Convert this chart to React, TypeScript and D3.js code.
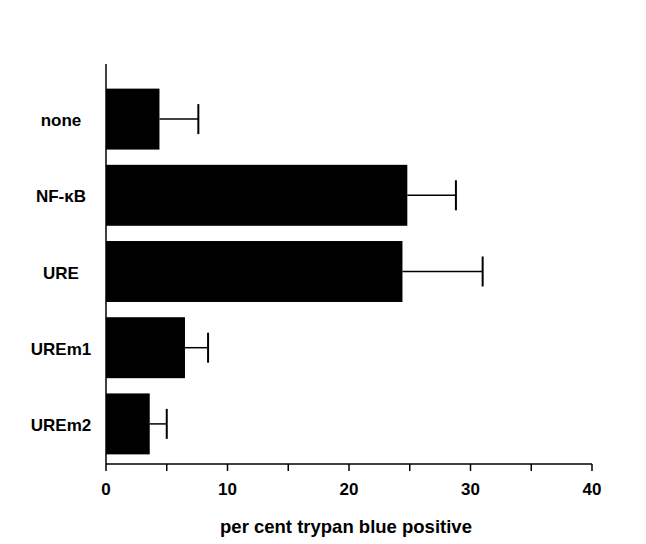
import * as d3 from "d3";
import React from "react";

const categories = ["none", "NF-\u03BAB", "URE", "UREm1", "UREm2"];
const means = [4.4, 24.8, 24.4, 6.5, 3.6];
const errors = [3.2, 4.0, 6.6, 1.9, 1.4];
const xTicks = [0, 10, 20, 30, 40];
const minorTicks = [5, 15, 25, 35];

const App = () => {
    const width = 646, height = 544;
    const font = "'Liberation Sans', Arial, Helvetica, sans-serif";

    const x = d3.scaleLinear().domain([0, 40]).range([106, 592]);
    const y = d3.scaleBand()
        .domain(categories)
        .range([81, 462])
        .paddingInner(0.2)
        .paddingOuter(0.1);

    const axisY = 464;

    return (
        <svg width={width} height={height} style={{ position: "absolute", left: 0, top: 0 }}>
            <rect width={width} height={height} fill="#fff" />
            {/* y axis */}
            <line x1={x(0)} x2={x(0)} y1={64} y2={axisY} stroke="#000" strokeWidth={1.5} />
            {/* x axis */}
            <line x1={x(0)} x2={x(40)} y1={axisY} y2={axisY} stroke="#000" strokeWidth={1.5} />
            {xTicks.concat(minorTicks).map(t => (
                <line key={"t" + t} x1={x(t)} x2={x(t)} y1={axisY} y2={axisY + 7}
                      stroke="#000" strokeWidth={1.5} />
            ))}
            {xTicks.map(t => (
                <text key={"l" + t} x={x(t)} y={495} textAnchor="middle"
                      fontFamily={font} fontWeight="bold" fontSize={17}>{t}</text>
            ))}
            {categories.map((c, i) => {
                const y0 = y(c) as number;
                const bh = y.bandwidth();
                const cy = y0 + bh / 2;
                return (
                    <g key={c}>
                        <line x1={x(means[i])} x2={x(means[i] + errors[i])} y1={cy} y2={cy}
                              stroke="#000" strokeWidth={1.5} />
                        <line x1={x(means[i] + errors[i])} x2={x(means[i] + errors[i])}
                              y1={cy - 15} y2={cy + 15} stroke="#000" strokeWidth={2} />
                        <rect x={x(0)} y={y0} width={x(means[i]) - x(0)} height={bh} fill="#000" />
                        <text x={61} y={cy + 7} textAnchor="middle" fontFamily={font}
                              fontWeight="bold" fontSize={17}>{c}</text>
                    </g>
                );
            })}
            <text x={346} y={533} textAnchor="middle" fontFamily={font}
                  fontWeight="bold" fontSize={18.5}>per cent trypan blue positive</text>
        </svg>
    );
};

export default App;
